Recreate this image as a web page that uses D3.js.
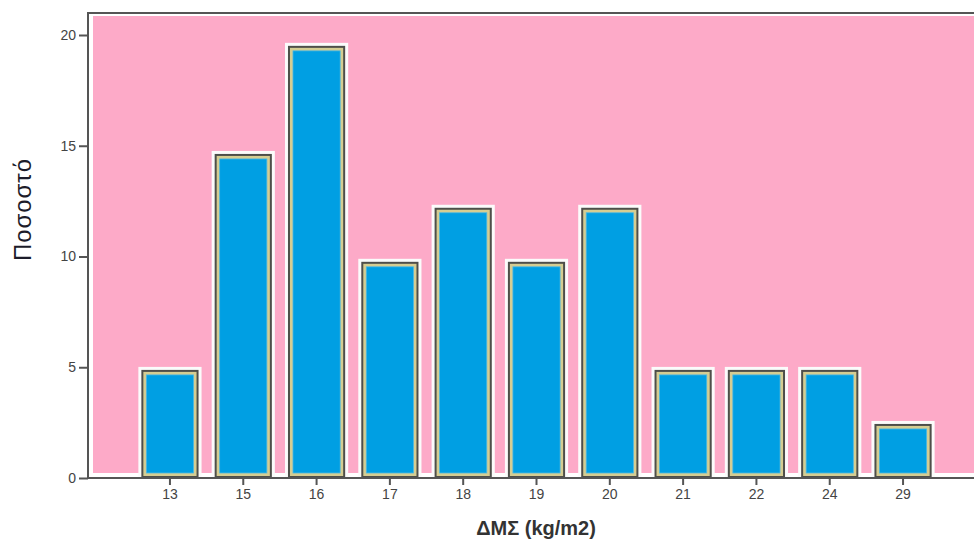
<!DOCTYPE html>
<html>
<head>
<meta charset="utf-8">
<script src="https://cdn.jsdelivr.net/npm/d3@7"></script>
<style>
  html, body { margin: 0; padding: 0; background: #fff; }
  svg { display: block; font-family: Arial, "Liberation Sans", sans-serif; }
</style>
</head>
<body>
<svg id="chart" width="974" height="540"></svg>
<script>
// BMI categories and percentage of respondents in each
const categories = ["13", "15", "16", "17", "18", "19", "20", "21", "22", "24", "29"];
const percentages = [4.88, 14.63, 19.51, 9.76, 12.20, 9.76, 12.20, 4.88, 4.88, 4.88, 2.44];
const yTicks = [0, 5, 10, 15, 20];
const xTitle = "ΔΜΣ (kg/m2)";
const yTitle = "Ποσοστό";

const svg = d3.select("#chart");

const axisLeftX = 88, axisBottomY = 478, frameTop = 13;

const x = d3.scaleBand()
  .domain(categories)
  .range([133.3, 939.7])
  .paddingInner(0.22)
  .paddingOuter(0.11);

const y = d3.scaleLinear()
  .domain([0, 20])
  .range([axisBottomY, 35]);

// plot background with its white inner margin
svg.append("rect")
  .attr("x", axisLeftX + 5).attr("y", frameTop + 3)
  .attr("width", 974 - axisLeftX - 5).attr("height", axisBottomY - frameTop - 8)
  .attr("fill", "#fdaac8");

// frame: top line
svg.append("line")
  .attr("x1", axisLeftX).attr("x2", 974)
  .attr("y1", frameTop).attr("y2", frameTop)
  .attr("stroke", "#555").attr("stroke-width", 2);

// bars: white halo, dark outline, tan rim, blue fill
const bars = svg.append("g").selectAll("g")
  .data(categories.map((c, i) => ({ c, v: percentages[i] })))
  .join("g");

bars.append("rect")
  .attr("x", d => x(d.c) - 3)
  .attr("y", d => y(d.v) - 3)
  .attr("width", x.bandwidth() + 6)
  .attr("height", d => axisBottomY - y(d.v) + 3)
  .attr("fill", "#fbfbfb");

bars.append("rect")
  .attr("x", d => x(d.c))
  .attr("y", d => y(d.v))
  .attr("width", x.bandwidth())
  .attr("height", d => axisBottomY - y(d.v))
  .attr("fill", "#4e4e4a");

bars.append("rect")
  .attr("x", d => x(d.c) + 2)
  .attr("y", d => y(d.v) + 2)
  .attr("width", x.bandwidth() - 4)
  .attr("height", d => axisBottomY - y(d.v) - 4)
  .attr("fill", "#d5cd92");

bars.append("rect")
  .attr("x", d => x(d.c) + 5)
  .attr("y", d => y(d.v) + 5)
  .attr("width", x.bandwidth() - 10)
  .attr("height", d => axisBottomY - y(d.v) - 10)
  .attr("fill", "#009fe3")
  .attr("stroke", "#4fb8e0").attr("stroke-width", 0.8);

// y axis
const yAxis = svg.append("g")
  .attr("transform", `translate(${axisLeftX},0)`)
  .call(d3.axisLeft(y).tickValues(yTicks).tickSize(9).tickPadding(3).tickSizeOuter(0));
yAxis.select(".domain").attr("d", `M0,${frameTop - 1}V${axisBottomY}`).attr("stroke", "#555").attr("stroke-width", 2);
yAxis.selectAll(".tick line").attr("stroke", "#555").attr("stroke-width", 2);
yAxis.selectAll(".tick text").attr("fill", "#444").attr("font-size", 14);

// x axis
const xAxis = svg.append("g")
  .attr("transform", `translate(0,${axisBottomY})`)
  .call(d3.axisBottom(x).tickSize(7).tickPadding(4).tickSizeOuter(0));
xAxis.select(".domain").attr("d", `M${axisLeftX},0H974`).attr("stroke", "#555").attr("stroke-width", 2);
xAxis.selectAll(".tick line").attr("stroke", "#555").attr("stroke-width", 2);
xAxis.selectAll(".tick text").attr("fill", "#444").attr("font-size", 14);

// axis titles
svg.append("text")
  .attr("x", 536).attr("y", 535)
  .attr("text-anchor", "middle")
  .attr("font-size", 20).attr("font-weight", "bold")
  .attr("fill", "#333")
  .text(xTitle);

svg.append("text")
  .attr("transform", "translate(31,210) rotate(-90)")
  .attr("text-anchor", "middle")
  .attr("font-size", 24)
  .attr("textLength", 102)
  .attr("lengthAdjust", "spacing")
  .attr("fill", "#1c1c2a")
  .text(yTitle);
</script>
</body>
</html>
